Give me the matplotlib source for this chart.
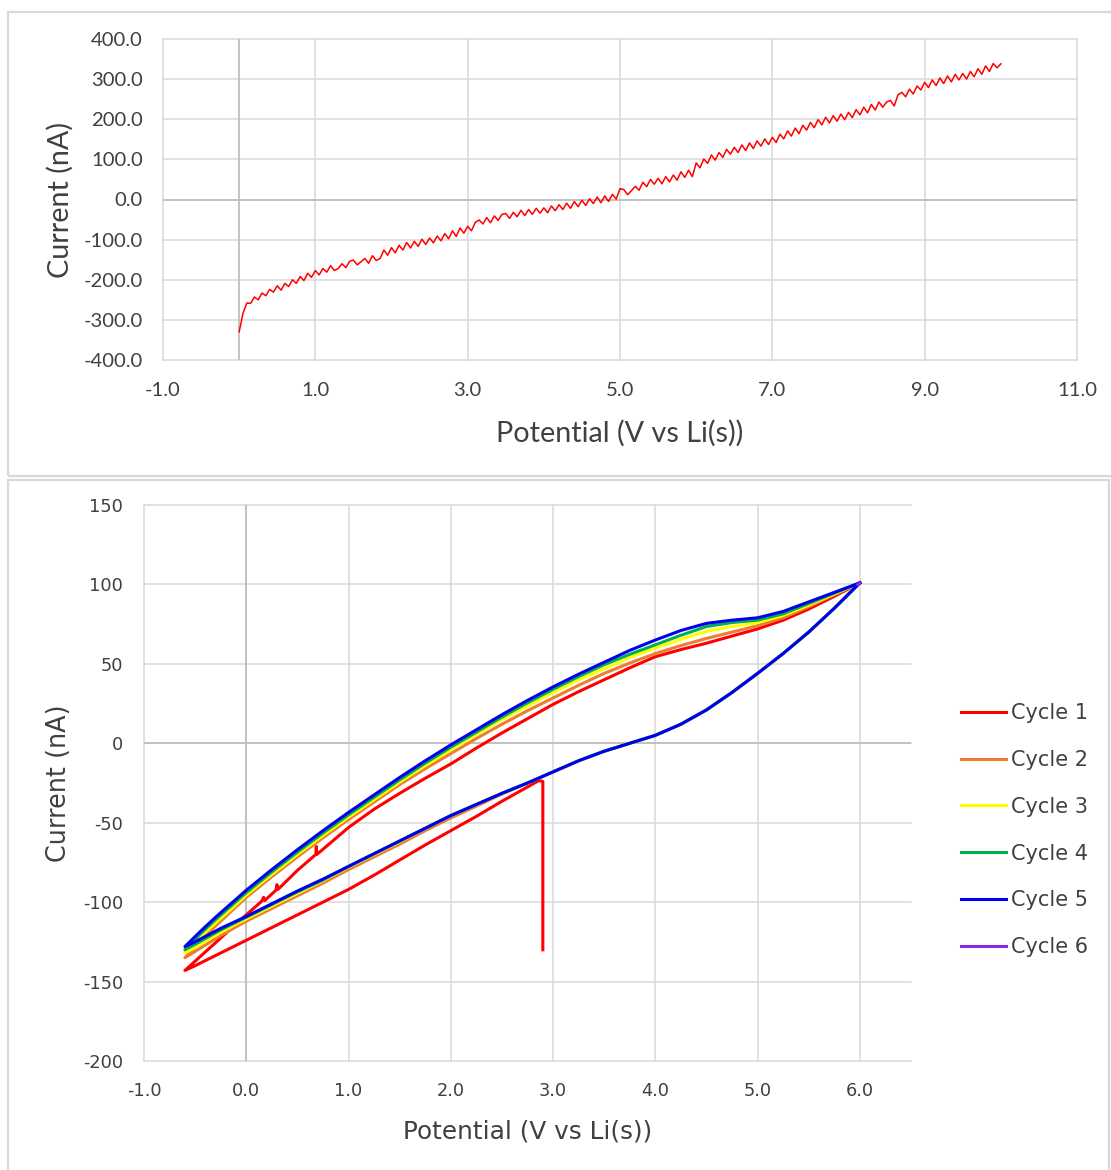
import numpy as np
import matplotlib.pyplot as plt
from matplotlib.patches import Rectangle

plt.rcParams['axes.unicode_minus'] = False

# ---- linear sweep (top panel): current in nA, sampled every 0.05 V from 0 to 10 V
lsv_current = [
    -330, -284, -258, -259, -243, -250, -233, -240, -224, -231,
    -215, -226, -209, -217, -200, -209, -192, -202, -184, -194,
    -177, -188, -172, -181, -165, -177, -172, -160, -170, -154,
    -151, -163, -155, -147, -159, -140, -152, -147, -126, -139,
    -120, -133, -114, -126, -107, -121, -104, -117, -99, -112,
    -96, -108, -91, -103, -85, -98, -78, -92, -71, -84,
    -67, -78, -57, -51, -61, -45, -58, -41, -52, -37,
    -35, -47, -32, -43, -27, -40, -25, -37, -22, -34,
    -21, -33, -16, -28, -13, -25, -9, -22, -5, -18,
    -2, -15, 2, -10, 6, -8, 9, -5, 13, 1,
    27, 25, 12, 22, 33, 23, 43, 32, 50, 38,
    53, 39, 57, 44, 61, 48, 69, 55, 73, 57,
    91, 79, 101, 90, 111, 98, 117, 105, 125, 113,
    130, 117, 136, 122, 141, 127, 146, 133, 151, 137,
    155, 142, 163, 151, 171, 158, 178, 164, 185, 173,
    192, 179, 199, 186, 205, 191, 209, 195, 213, 199,
    217, 204, 224, 211, 230, 216, 237, 223, 243, 230,
    243, 247, 233, 261, 267, 256, 275, 263, 283, 273,
    292, 279, 298, 284, 303, 289, 308, 293, 312, 298,
    314, 300, 319, 306, 326, 312, 333, 319, 339, 328,
    338,
]
lsv_potential = np.linspace(0, 10, len(lsv_current))

# ---- cyclic voltammetry (bottom panel)
cath_v = [6.0, 5.75, 5.5, 5.25, 5.0, 4.75, 4.5, 4.25, 4.0, 3.75, 3.5, 3.25, 3.0, 2.75,
          2.5, 2.25, 2.0, 1.75, 1.5, 1.25, 1.0, 0.75, 0.5, 0.25, 0.0, -0.25, -0.5, -0.6]
anod_v = [-0.6, -0.45, -0.3, -0.15, 0.0, 0.25, 0.5, 0.75, 1.0, 1.25, 1.5, 1.75, 2.0, 2.25,
          2.5, 2.75, 3.0, 3.25, 3.5, 3.75, 4.0, 4.25, 4.5, 4.75, 5.0, 5.25, 5.5, 5.75, 6.0]

c2_cath = [101, 85, 70, 56.5, 44, 32, 21, 12, 5, 0, -5, -11, -18, -25,
           -32, -39.5, -47, -55, -63.5, -71.5, -79.5, -88, -96, -104, -112, -121, -131, -135]
c2_anod = [-135, -124.5, -115, -106, -97, -84, -71.5, -59.5, -48, -37, -26, -16, -6.5, 3,
           12, 20.5, 28.5, 36.5, 44, 50.5, 56.5, 61.5, 66, 70, 74, 79, 86, 93.5, 101]

c3_cath = [101, 85, 70, 56.5, 44, 32, 21, 12, 5, 0, -5, -11, -18, -25,
           -31.5, -38.5, -45.5, -53.5, -62, -70, -78, -86.5, -94.5, -102.5, -110.5, -119, -128.5, -132]
c3_anod = [-132, -122, -113, -104.5, -95.5, -82.5, -70, -58, -46.5, -35.5, -24.5, -14, -4, 5.5,
           15, 23.5, 32, 40, 47, 54, 60, 65.5, 70.5, 73.5, 76, 80.5, 87, 94, 101]

c4_cath = [101, 85, 70, 56.5, 44, 32, 21, 12, 5, 0, -5, -11, -18, -25,
           -31.5, -38.5, -45.5, -53.5, -61.5, -69.5, -77.5, -86, -93.5, -101.5, -109.5, -117.5, -126.5, -130]
c4_anod = [-130, -120, -111, -102.5, -94, -81, -68.5, -56.5, -45, -34, -23, -12.5, -2.5, 7,
           16.5, 25.5, 34, 42, 49.5, 56, 62, 68, 73.5, 76, 77.5, 81.5, 88, 94.5, 101]

c5_cath = [101, 85, 70, 56.5, 44, 32, 21, 12, 5, 0, -5, -11, -18, -25,
           -31.5, -38.5, -45.5, -53.5, -61.5, -69.5, -77.5, -85.5, -93, -101, -109, -116.5, -125, -128]
c5_anod = [-128, -118.5, -109.5, -101, -92.5, -79.5, -67, -55, -43.5, -32.5, -21.5, -11, -1, 8.5,
           18, 27, 35.5, 43.5, 51, 58.5, 65, 71, 75.5, 77.5, 79, 83, 89, 95, 101]

# first cycle starts at open circuit (2.9 V), sweeps down to -0.6 V, then up to 6 V
c1_v = [2.9, 2.9, 2.86, 2.75, 2.5, 2.25, 2.0, 1.75, 1.5, 1.25, 1.0, 0.75, 0.5, 0.25, 0.0, -0.25, -0.5, -0.6,
        -0.3, 0.0, 0.15, 0.17, 0.18, 0.29, 0.3, 0.31, 0.5, 0.68, 0.685, 0.69, 1.0, 1.25, 1.5, 1.75,
        2.0, 2.25, 2.5, 2.75, 3.0, 3.25, 3.5, 3.75, 4.0, 4.25, 4.5, 4.75, 5.0, 5.25, 5.5, 5.75, 6.0]
c1_i = [-130, -24, -23.5, -27.5, -36.5, -46, -55, -64, -73.5, -83, -92, -100, -108, -116, -124, -132, -140, -143,
        -125.5, -108, -99.5, -97, -99, -92.5, -89, -92, -80, -70, -65, -70, -53, -41.5, -31.5, -22,
        -13, -3, 6.5, 15.5, 24.5, 32.5, 40, 47.5, 54.5, 59, 63, 67.5, 72, 77.5, 84.5, 92.5, 101]

c6_v = [6.0, 5.98]
c6_i = [101, 100]

cycle_labels = ['Cycle 1', 'Cycle 2', 'Cycle 3', 'Cycle 4', 'Cycle 5', 'Cycle 6']
cycle_colors = ['#ff0000', '#ed7d31', '#ffff00', '#00b050', '#0000f0', '#8a2be2']

W, H = 1111, 1170
fig = plt.figure(figsize=(W / 100, H / 100), dpi=100)


def fx(px):
    return px / W


def fy(py):
    return 1 - py / H


# chart frames
for x0, y0, x1, y1 in [(8, 12, 1130, 476), (8, 480, 1109, 1190)]:
    fig.add_artist(Rectangle((fx(x0), fy(y1)), fx(x1) - fx(x0), fy(y0) - fy(y1),
                             transform=fig.transFigure, fill=False, ec='#d9d9d9', lw=1.6))

grid_kw = dict(color='#d9d9d9', lw=1.1)
txt = '#404040'

# ---- top chart
ax1 = fig.add_axes([fx(163), fy(360), fx(1077) - fx(163), fy(39) - fy(360)])
ax1.plot(lsv_potential, lsv_current, color='#ff0000', lw=1.1, zorder=3)
ax1.set_xlim(-1, 11)
ax1.set_ylim(-400, 400)
ax1.set_xticks(np.arange(-1, 11.1, 2))
ax1.set_yticks(np.arange(-400, 401, 100))
ax1.xaxis.set_major_formatter('{x:.1f}')
ax1.yaxis.set_major_formatter('{x:.1f}')
ax1.grid(**grid_kw)
ax1.axhline(0, color='#bfbfbf', lw=1.3, zorder=1)
ax1.axvline(0, color='#bfbfbf', lw=1.3, zorder=1)
ax1.set_axisbelow(True)
ax1.tick_params(axis='both', length=0, labelsize=14.6, labelcolor=txt, labelfontfamily='Lato')
ax1.tick_params(axis='y', pad=14.4)
ax1.tick_params(axis='x', pad=15.5)
ax1.set_xlabel('Potential (V vs Li(s))', family='Lato', size=20.7, color=txt, va='center')
ax1.xaxis.set_label_coords(0.5, -0.227)
ax1.set_ylabel('Current (nA)', family='Lato', size=20.7, color=txt, va='center', ha='center')
ax1.yaxis.set_label_coords(-0.1127, 0.5)

# ---- bottom chart
ax2 = fig.add_axes([fx(144), fy(1061), fx(911) - fx(144), fy(505) - fy(1061)])
cycles = [
    (c1_v, c1_i),
    (cath_v + anod_v, c2_cath + c2_anod),
    (cath_v + anod_v, c3_cath + c3_anod),
    (cath_v + anod_v, c4_cath + c4_anod),
    (cath_v + anod_v, c5_cath + c5_anod),
    (c6_v, c6_i),
]
for (v, i), lab, col in zip(cycles, cycle_labels, cycle_colors):
    ax2.plot(v, i, color=col, lw=2.2, label=lab, zorder=3, solid_joinstyle='round')
ax2.set_xlim(-1, 6.5)
ax2.set_ylim(-200, 150)
ax2.set_xticks(np.arange(-1, 6.1, 1))
ax2.set_yticks(np.arange(-200, 151, 50))
ax2.xaxis.set_major_formatter('{x:.1f}')
ax2.grid(**grid_kw)
ax2.axhline(0, color='#bfbfbf', lw=1.3, zorder=1)
ax2.axvline(0, color='#bfbfbf', lw=1.3, zorder=1)
ax2.set_axisbelow(True)
ax2.tick_params(axis='both', length=0, labelsize=12.8, labelcolor=txt, labelfontfamily='DejaVu Sans')
ax2.tick_params(axis='y', pad=15)
ax2.tick_params(axis='x', pad=15)
ax2.set_xlabel('Potential (V vs Li(s))', family='DejaVu Sans', size=17.8, color=txt, va='center')
ax2.xaxis.set_label_coords(0.5, -0.126)
ax2.set_ylabel('Current (nA)', family='DejaVu Sans', size=18.4, color=txt, va='center', ha='center')
ax2.yaxis.set_label_coords(-0.1108, 0.5)

for ax in (ax1, ax2):
    for s in ax.spines.values():
        s.set_visible(False)
    for gl in ax.get_xgridlines() + ax.get_ygridlines():
        gl.set_clip_on(False)

leg = ax2.legend(loc='upper left', bbox_to_anchor=(fx(961), fy(703)), bbox_transform=fig.transFigure,
                 frameon=False, prop={'family': 'DejaVu Sans', 'size': 15},
                 handlelength=2.16, handletextpad=0.24, labelspacing=1.29,
                 borderpad=0, borderaxespad=0)
for t in leg.get_texts():
    t.set_color(txt)

fig.savefig('out.png', dpi=100, facecolor='white')
